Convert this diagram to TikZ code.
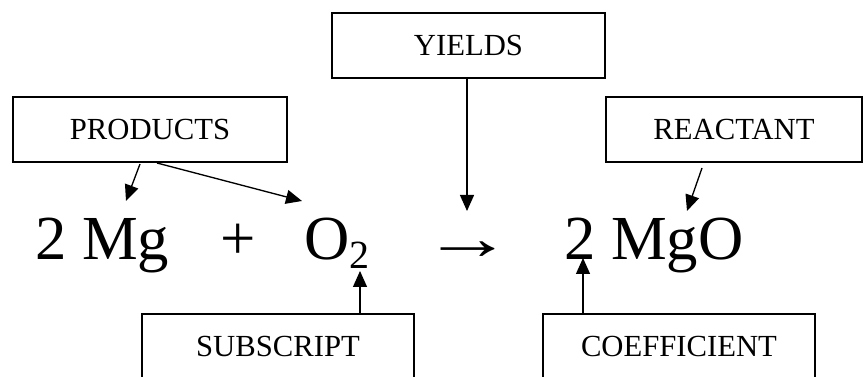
\documentclass[tikz,border=0pt]{standalone}
\usepackage{fontspec}
\setmainfont{Liberation Serif}
\usetikzlibrary{arrows.meta}
\begin{document}
\begin{tikzpicture}[x=0.75pt,y=-0.75pt,
  labelbox/.style={draw,line width=1.1pt,rectangle,minimum height=48.75pt,inner sep=0pt,font=\fontsize{23}{26}\selectfont},
  eq/.style={anchor=base west,inner sep=0pt,font=\fontsize{47}{50}\selectfont},
  pointer/.style={line width=1pt,-{Triangle[length=12pt,width=10.5pt]}}]
\useasboundingbox (0,0) rectangle (863,377);
% boxes
\node[labelbox,minimum width=205.5pt] (prod) at (150,129.5) {PRODUCTS};
\node[labelbox,minimum width=204.75pt] (yields) at (468.5,45.5) {YIELDS};
\node[labelbox,minimum width=192pt] (react) at (734,129.5) {REACTANT};
\node[labelbox,minimum width=204pt] (subs) at (278,346.5) {SUBSCRIPT};
\node[labelbox,minimum width=204pt] (coef) at (679,346.5) {COEFFICIENT};
% equation
\node[eq] (mg) at (35,260) {2 Mg};
\node[eq] (plus) at (220,260) {+};
\node[eq] (o) at (304,260) {O};
\node[anchor=base west,inner sep=0pt,font=\fontsize{30}{32}\selectfont] (sub) at (349,269) {2};
\node[eq] (yarrow) at (422,260) {\scalebox{1.45}[1]{→}};
\node[eq] (mgo) at (564,260) {2 MgO};
% connector ends
\coordinate (p1) at (140,164);
\coordinate (t1) at (126,201);
\coordinate (p2) at (157,163);
\coordinate (t2) at (302,201);
\coordinate (p3) at (467,79);
\coordinate (t3) at (467,211);
\coordinate (p4) at (702,168);
\coordinate (t4) at (687,211);
\coordinate (p5) at (360,314);
\coordinate (t5) at (360,271);
\coordinate (p6) at (583,314);
\coordinate (t6) at (583,258);
\draw[pointer] (p1) -- (t1);
\draw[pointer] (p2) -- (t2);
\draw[pointer] (p3) -- (t3);
\draw[pointer] (p4) -- (t4);
\draw[pointer] (p5) -- (t5);
\draw[pointer] (p6) -- (t6);
\end{tikzpicture}
\end{document}
